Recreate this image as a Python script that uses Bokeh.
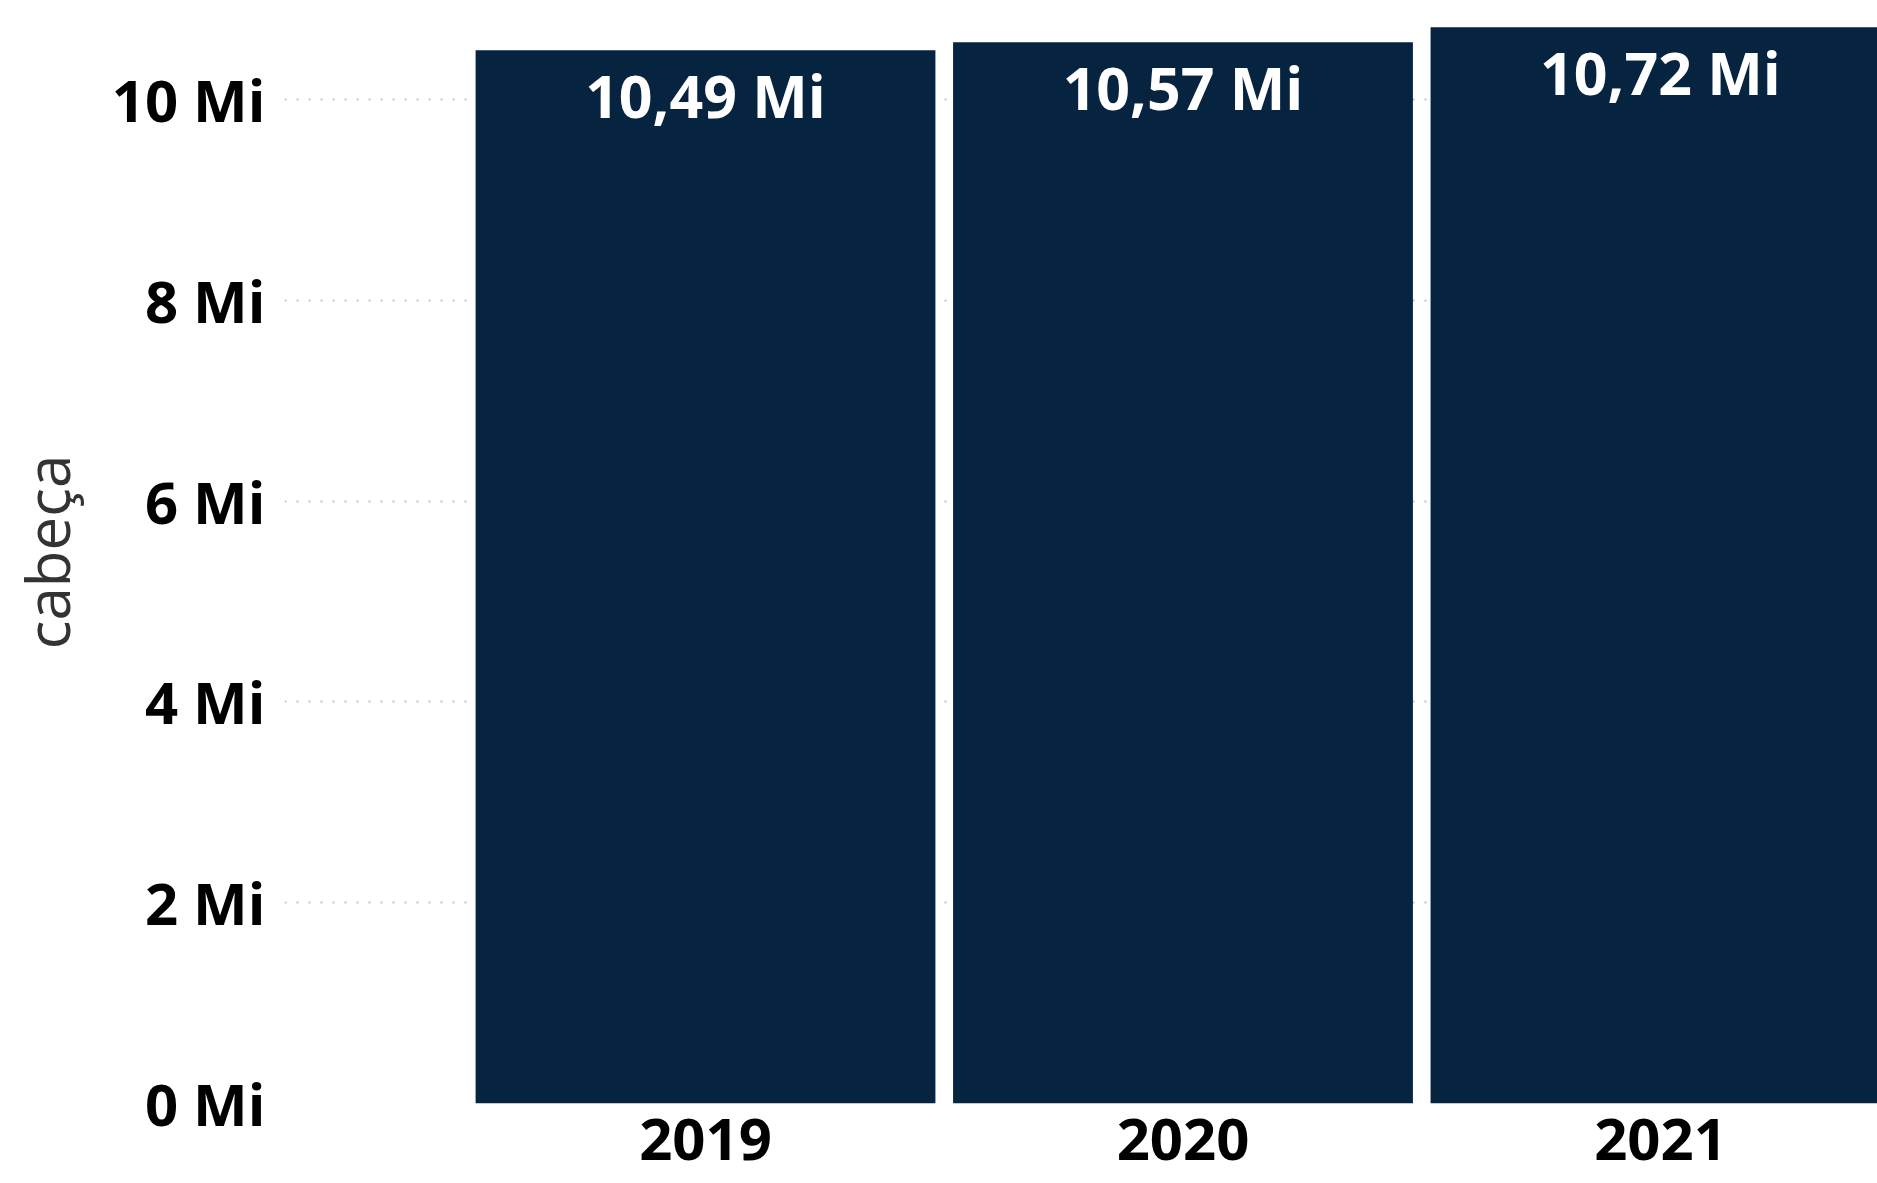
from bokeh.plotting import figure
from bokeh.models import Range1d, FixedTicker, ColumnDataSource
from bokeh.core.properties import value
from bokeh.embed import file_html
from bokeh.resources import INLINE

years = ["2019", "2020", "2021"]
cabeca_mi = [10.49, 10.57, 10.72]
y_ticks = [0, 2, 4, 6, 8, 10]
y_tick_labels = ["0 Mi", "2 Mi", "4 Mi", "6 Mi", "8 Mi", "10 Mi"]
value_labels = [f"{v:.2f}".replace(".", ",") + " Mi" for v in cabeca_mi]

xs = list(range(len(years)))
src = ColumnDataSource(dict(x=xs, top=cabeca_mi, label=value_labels))

p = figure(width=1877, height=1183, output_backend="svg", toolbar_location=None,
           x_range=Range1d(-0.8817, 2.4545), y_range=Range1d(0, 10.986),
           min_border_left=284, min_border_right=0, min_border_top=0, min_border_bottom=80)
p.outline_line_color = None
p.background_fill_color = "white"
p.border_fill_color = "white"

p.vbar(x="x", top="top", bottom=0, width=0.963, source=src,
       fill_color="#06233F", line_color=None)
p.text(x="x", y="top", text="label", source=src, text_color="white",
       text_font=value("Open Sans"), text_font_style="bold", text_font_size="59px",
       text_align="center", text_baseline="middle", y_offset=45)

p.xgrid.grid_line_color = None
p.ygrid.ticker = FixedTicker(ticks=y_ticks)
p.ygrid.grid_line_color = "#c4c4c4"
p.ygrid.grid_line_dash = "2 10"
p.ygrid.grid_line_width = 1.8

p.yaxis.ticker = FixedTicker(ticks=y_ticks)
p.yaxis.major_label_overrides = {t: l for t, l in zip(y_ticks, y_tick_labels)}
p.xaxis.ticker = FixedTicker(ticks=xs)
p.xaxis.major_label_overrides = {i: y for i, y in zip(xs, years)}

for ax in (p.xaxis, p.yaxis):
    ax.axis_line_color = None
    ax.major_tick_line_color = None
    ax.minor_tick_line_color = None
    ax.major_tick_out = 0
    ax.major_tick_in = 0
    ax.major_label_text_font = "Open Sans"
    ax.major_label_text_font_style = "bold"
    ax.major_label_text_font_size = "58px"
    ax.major_label_text_color = "black"

p.xaxis.major_label_standoff = 15
p.xaxis.major_label_text_line_height = 0.9
p.yaxis.major_label_standoff = 19
p.yaxis.axis_label = "cabeça"
p.yaxis.axis_label_text_font = "Open Sans"
p.yaxis.axis_label_text_font_style = "normal"
p.yaxis.axis_label_text_font_size = "60px"
p.yaxis.axis_label_text_color = "#333333"
p.yaxis.axis_label_standoff = 21

open("out.html", "w").write(file_html(p, INLINE))
